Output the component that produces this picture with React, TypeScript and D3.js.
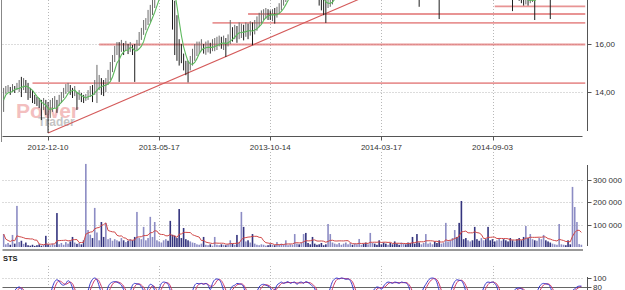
import React from 'react';
import * as d3 from 'd3';

// ---- price bars (2-session bars), high / low ----
const highs = [
  14.17, 14.25, 14.29, 14.21, 14.33, 14.25, 14.38, 14.50, 14.63, 14.58,
  14.50, 14.38, 14.17, 14.08, 13.88, 13.79, 13.75, 13.67, 13.75, 13.67,
  13.58, 13.67, 13.75, 13.83, 13.67, 13.88, 14.00, 14.17, 14.33, 14.38,
  14.29, 14.17, 14.25, 14.00, 14.08, 13.96, 13.88, 13.92, 14.08, 14.25,
  14.29, 14.50, 15.13, 14.71, 14.58, 14.50, 14.58, 14.92, 15.25, 15.54,
  15.92, 16.08, 16.08, 16.17, 16.04, 16.13, 16.00, 16.08, 15.96, 16.00,
  16.17, 16.50, 16.67, 17.00, 17.08, 17.42, 17.63, 17.92, 18.17, 18.40,
  18.70, 19.00, 19.20, 19.30, 19.10, 18.90, 18.60, 17.80, 17.20, 16.20,
  16.00, 15.60, 15.30, 15.30, 15.50, 15.80, 16.00, 16.10, 16.10, 16.20,
  16.00, 16.10, 16.15, 16.05, 16.20, 16.25, 16.30, 16.35, 16.30, 16.35,
  16.25, 16.40, 17.00, 16.70, 16.80, 16.75, 16.90, 16.85, 16.80, 16.90,
  16.85, 16.95, 16.90, 17.00, 17.15, 17.30, 17.40, 17.45, 17.50, 17.45,
  17.40, 17.45, 17.50, 17.55, 17.70, 17.85, 18.00, 18.20, 18.40, 18.60,
  18.80, 19.00, 19.20, 19.10, 19.30, 19.40, 19.20, 19.00, 18.80, 18.60,
  18.40, 18.30, 18.20, 18.10, 18.00, 18.00, 18.10, 18.20, 18.30, 18.50,
  18.70, 18.90, 19.10, 19.20, 19.40, 19.50, 19.60, 19.50, 19.70, 19.80,
  19.90, 20.00, 19.80, 19.70, 19.90, 20.10, 20.20, 20.00, 19.90, 19.80,
  19.70, 19.60, 19.50, 19.60, 19.40, 19.30, 19.20, 19.10, 19.00, 19.10,
  19.20, 19.10, 19.00, 18.90, 18.80, 18.70, 18.60, 18.50, 18.60, 18.80,
  18.90, 19.00, 19.10, 19.20, 19.00, 18.90, 18.70, 18.80, 19.00, 19.10,
  19.20, 19.30, 19.40, 19.50, 19.40, 19.30, 19.20, 19.10, 19.00, 19.10,
  19.20, 19.10, 19.00, 18.90, 18.80, 18.90, 19.00, 18.90, 18.80, 18.70,
  18.60, 18.50, 18.60, 18.70, 18.80, 18.70, 18.60, 18.50, 18.40, 18.50,
  18.40, 18.30, 18.20, 18.10, 17.90, 17.90, 17.90, 18.10, 18.20, 18.30,
  18.40, 18.50, 18.60, 18.70, 18.60, 18.50, 18.40, 18.50, 18.60, 18.70,
  18.80, 18.90, 19.00, 18.90, 18.80, 18.70, 18.80, 18.90, 19.00, 19.10,
  19.20,
];
const lows = [
  13.17, 13.92, 14.00, 13.88, 14.00, 13.96, 14.08, 14.00, 13.79, 14.08,
  13.96, 13.67, 13.75, 13.54, 13.50, 13.42, 13.33, 12.83, 13.25, 13.04,
  12.29, 12.92, 13.17, 13.33, 13.13, 13.42, 13.54, 13.75, 13.92, 14.00,
  13.88, 13.75, 13.83, 13.25, 13.67, 13.58, 13.54, 13.63, 13.67, 13.79,
  13.58, 13.88, 13.54, 14.08, 13.88, 13.83, 14.00, 14.29, 14.50, 14.83,
  15.25, 15.54, 14.42, 15.67, 15.54, 15.75, 15.58, 15.67, 15.54, 14.42,
  15.75, 15.92, 16.17, 16.38, 16.58, 16.79, 16.92, 17.21, 17.50, 17.90,
  18.20, 18.40, 18.60, 18.70, 18.50, 18.30, 16.60, 15.54, 15.30, 15.10,
  15.20, 14.90, 14.70, 14.40, 14.90, 15.10, 15.30, 15.50, 15.60, 15.70,
  15.60, 15.55, 15.65, 15.60, 15.70, 15.70, 15.75, 15.90, 15.80, 15.75,
  15.46, 15.90, 16.00, 16.10, 16.20, 16.05, 16.20, 16.25, 16.15, 16.30,
  16.20, 16.35, 15.95, 16.40, 16.55, 16.70, 16.85, 17.00, 17.05, 17.00,
  17.00, 16.95, 16.85, 17.10, 17.25, 17.40, 17.60, 17.75, 17.95, 18.10,
  18.30, 18.50, 18.70, 18.60, 18.80, 18.90, 18.70, 18.50, 18.30, 18.10,
  17.95, 17.90, 17.60, 17.40, 17.20, 16.88, 17.50, 17.55, 17.65, 18.00,
  18.20, 18.40, 18.60, 18.70, 18.90, 19.00, 19.10, 19.00, 19.20, 19.30,
  19.40, 19.50, 19.30, 19.20, 19.40, 19.60, 19.70, 19.50, 19.40, 19.30,
  19.20, 19.10, 19.00, 19.10, 18.90, 18.80, 18.70, 18.60, 18.50, 18.60,
  18.70, 18.60, 18.50, 18.40, 18.30, 18.20, 18.10, 17.55, 18.10, 18.30,
  18.40, 18.50, 18.60, 18.70, 18.50, 18.40, 17.04, 18.30, 18.50, 18.60,
  18.70, 18.80, 18.90, 19.00, 18.90, 18.80, 18.70, 18.60, 18.50, 18.60,
  18.70, 18.60, 18.50, 18.40, 18.30, 18.40, 18.50, 18.40, 18.30, 18.20,
  18.10, 18.00, 18.10, 18.20, 18.30, 18.20, 18.10, 18.00, 18.00, 17.37,
  17.90, 17.85, 17.80, 17.70, 17.60, 17.65, 17.60, 17.70, 17.75, 17.00,
  17.90, 18.00, 18.10, 18.20, 18.10, 18.00, 17.04, 18.00, 18.10, 18.20,
  18.30, 18.40, 18.50, 18.40, 18.30, 18.20, 18.30, 18.40, 18.50, 18.60,
  18.70,
];

// ---- volume, thousands of shares ----
const volumes = [
  58, 12, 18, 10, 54, 15, 184, 22, 28, 14,
  20, 8, 6, 10, 5, 8, 12, 6, 10, 50,
  12, 8, 15, 10, 152, 12, 18, 10, 22, 15,
  25, 45, 20, 14, 18, 12, 30, 372, 76, 55,
  40, 175, 65, 30, 112, 45, 108, 35, 40, 28,
  35, 30, 25, 40, 30, 22, 28, 35, 30, 45,
  157, 40, 35, 90, 30, 40, 135, 45, 112, 30,
  25, 20, 30, 35, 28, 117, 55, 50, 40, 170,
  40, 85, 35, 30, 25, 20, 18, 12, 10, 15,
  45, 10, 8, 12, 6, 45, 10, 8, 12, 10,
  8, 12, 30, 15, 10, 54, 20, 157, 90, 25,
  30, 20, 58, 15, 10, 8, 12, 10, 6, 8,
  12, 10, 8, 22, 10, 15, 12, 30, 8, 12,
  10, 58, 15, 12, 20, 58, 63, 18, 12, 45,
  15, 10, 12, 18, 8, 12, 103, 58, 20, 15,
  12, 18, 10, 15, 20, 12, 18, 10, 15, 12,
  36, 10, 15, 20, 12, 63, 18, 15, 10, 30,
  12, 20, 15, 10, 18, 12, 25, 15, 10, 20,
  15, 12, 20, 18, 45, 15, 58, 20, 12, 18,
  58, 15, 20, 12, 25, 18, 30, 15, 20, 108,
  25, 30, 40, 76, 45, 108, 206, 35, 40, 30,
  25, 30, 90, 35, 28, 40, 30, 35, 90, 30,
  35, 25, 30, 40, 28, 35, 30, 25, 40, 30,
  25, 35, 40, 30, 45, 94, 40, 58, 35, 30,
  28, 40, 35, 54, 30, 25, 20, 15, 12, 10,
  103, 12, 10, 8, 30, 12, 269, 179, 112, 13,
  10,
];

// ---- STS oscillator (%K) ----
const sts = [
  60, 55, 50, 58, 66, 72, 78, 80, 76, 65,
  50, 38, 25, 18, 15, 20, 28, 22, 15, 25,
  40, 62, 80, 92, 96, 93, 86, 84, 88, 94,
  90, 78, 60, 45, 35, 42, 55, 60, 72, 88,
  97, 100, 96, 82, 66, 55, 62, 80, 88, 91,
  92, 91, 88, 84, 74, 60, 56, 70, 84, 88,
  87, 86, 80, 72, 64, 78, 86, 84, 72, 62,
  76, 88, 91, 90, 86, 72, 50, 30, 12, 8,
  10, 15, 22, 30, 45, 70, 84, 88, 87, 88,
  86, 88, 84, 74, 88, 96, 98, 96, 88, 72,
  60, 66, 74, 82, 84, 88, 87, 86, 80, 62,
  45, 40, 52, 60, 70, 80, 85, 86, 84, 82,
  78, 70, 74, 84, 88, 91, 88, 90, 92, 88,
  90, 91, 86, 90, 91, 88, 92, 90, 86, 82,
  76, 62, 45, 30, 28, 40, 60, 78, 92, 98,
  100, 98, 100, 99, 97, 98, 94, 82, 62, 45,
  38, 44, 52, 58, 62, 66, 70, 76, 80, 79,
  75, 82, 88, 91, 90, 88, 91, 90, 88, 91,
  90, 89, 84, 70, 55, 42, 38, 50, 65, 78,
  86, 94, 99, 100, 98, 90, 72, 55, 45, 40,
  50, 66, 82, 92, 96, 95, 94, 86, 70, 55,
  42, 35, 40, 48, 56, 65, 78, 88, 91, 90,
  91, 88, 80, 62, 45, 38, 42, 50, 60, 68,
  74, 77, 78, 76, 72, 60, 48, 40, 45, 55,
  68, 80, 86, 88, 87, 86, 80, 65, 50, 40,
  35, 38, 45, 55, 62, 68, 72, 76, 80, 82,
  82,
];

const tickIndex = [20, 70, 120, 170, 220];
const tickLabels = ['2012-12-10', '2013-05-17', '2013-10-14', '2014-03-17', '2014-09-03'];
const priceTicks = [14, 16, 18];
const volumeTicks = [100, 200, 300];
const stsTicks = [80, 100];
const levels = [14.37, 15.98, 16.88, 17.25, 17.57];
const levelStart = [13, 43, 94, 110, 221];
const trendIdx = [20, 159];
const trendPrice = [12.29, 17.83];

const N = highs.length;
const FONT = '"Liberation Sans", Arial, sans-serif';

export default function App() {
  const x = d3.scaleLinear().domain([0, N]).range([2.5, 582.5]);
  const cx = (i: number) => x(i + 0.5);
  const yP = d3.scaleLinear().domain([14, 16]).range([92, 44]);
  const yV = d3.scaleLinear().domain([0, 300]).range([247, 180]);
  const yS = d3.scaleLinear().domain([80, 100]).range([287, 278]);

  const mids = highs.map((h, i) => (h + lows[i]) / 2);
  const ma = mids.map((_, i) => d3.mean(mids.slice(Math.max(0, i - 4), i + 1)) as number);
  const volMa = volumes.map((_, i) => d3.mean(volumes.slice(Math.max(0, i - 9), i + 1)) as number);
  const stsD = sts.map((_, i) => d3.mean(sts.slice(Math.max(0, i - 2), i + 1)) as number);

  const priceLine = d3.line<number>().x((_, i) => cx(i)).y((d) => yP(d));
  const volLine = d3.line<number>().x((_, i) => cx(i)).y((d) => yV(d));
  const stsLine = d3.line<number>().x((_, i) => cx(i)).y((d) => yS(d)).curve(d3.curveMonotoneX);

  const fmtPrice = (v: number) => d3.format('.2f')(v).replace('.', ',');
  const loc = d3.formatLocale({ decimal: ',', thousands: ' ', grouping: [3], currency: ['', ''] });
  const fmtVol = (v: number) => loc.format(',')(v * 1000);

  const up = mids.map((m, i) => i === 0 || m >= mids[i - 1]);
  const trendX2 = N + 2;
  const trendSlope = (trendPrice[1] - trendPrice[0]) / (trendIdx[1] - trendIdx[0]);
  const trendP2 = trendPrice[0] + trendSlope * (trendX2 - trendIdx[0]);

  const grid = { stroke: '#b8b8b8', strokeWidth: 1, strokeDasharray: '1,2' };
  const axisX = 587.5;

  return (
    <svg width={625} height={290} style={{ position: 'absolute', left: 0, top: 0, background: '#fff' }}
      fontFamily={FONT}>
      <defs>
        <clipPath id="cp-price"><rect x={2.5} y={0} width={583} height={135.5} /></clipPath>
        <clipPath id="cp-vol"><rect x={2.5} y={150} width={581} height={97.5} /></clipPath>
        <clipPath id="cp-sts"><rect x={2.5} y={262} width={581} height={28} /></clipPath>
      </defs>
      <rect x={0} y={0} width={625} height={290} fill="#fff" />

      {/* ---- price panel ---- */}
      {tickIndex.map((t) => (
        <line key={'vg' + t} x1={Math.round(cx(t)) + 0.5} x2={Math.round(cx(t)) + 0.5} y1={0} y2={135} {...grid} />
      ))}
      {priceTicks.map((p) => (
        <line key={'hg' + p} x1={2.5} x2={583} y1={Math.round(yP(p)) + 0.5} y2={Math.round(yP(p)) + 0.5} {...grid} />
      ))}
      <g opacity={0.5}>
        <text x={16} y={118} fontSize={21} fontWeight="bold" fill="#e88080" fontFamily={FONT}>Power</text>
        <text x={38} y={126} fontSize={12} fontWeight="bold" fill="#8a8a8a" fontFamily={FONT}>Trader</text>
      </g>
      <g clipPath="url(#cp-price)">
        {levels.map((p, k) => (
          <line key={'lv' + k} x1={cx(levelStart[k])} x2={585.5} y1={yP(p)} y2={yP(p)}
            stroke="#e07070" strokeOpacity={0.75} strokeWidth={1.8} />
        ))}
        <line x1={cx(trendIdx[0])} y1={yP(trendPrice[0])} x2={cx(trendX2)} y2={yP(trendP2)}
          stroke="#d45a5a" strokeWidth={1.1} />
        {highs.map((h, i) => (
          <line key={'b' + i} x1={cx(i)} x2={cx(i)} y1={yP(h)} y2={yP(lows[i])}
            stroke={up[i] ? '#6a6a6a' : '#1e1e1e'} strokeWidth={1} />
        ))}
        <path d={priceLine(ma) || ''} fill="none" stroke="#5cb85c" strokeWidth={1.1} />
      </g>
      <line x1={2.5} x2={582.5} y1={136.5} y2={136.5} stroke="#555" />
      {tickIndex.map((t, k) => (
        <g key={'xt' + t}>
          <line x1={Math.round(cx(t)) + 0.5} x2={Math.round(cx(t)) + 0.5} y1={136.5} y2={140.5} stroke="#555" />
          <text x={cx(t)} y={150} fontSize={8} fill="#333" textAnchor="middle">{tickLabels[k]}</text>
        </g>
      ))}
      <line x1={axisX} x2={axisX} y1={0} y2={131} stroke="#555" />
      {priceTicks.map((p) => (
        <g key={'pt' + p}>
          <line x1={axisX} x2={axisX + 4} y1={Math.round(yP(p)) + 0.5} y2={Math.round(yP(p)) + 0.5} stroke="#555" />
          <text x={595} y={yP(p) + 3} fontSize={8} fill="#333">{fmtPrice(p)}</text>
        </g>
      ))}
      <line x1={1.5} x2={1.5} y1={0} y2={142} stroke="#888" />

      {/* ---- volume panel ---- */}
      {tickIndex.map((t) => (
        <line key={'vvg' + t} x1={Math.round(cx(t)) + 0.5} x2={Math.round(cx(t)) + 0.5} y1={152} y2={248} {...grid} />
      ))}
      {volumeTicks.map((v) => (
        <line key={'vhg' + v} x1={2.5} x2={583} y1={Math.round(yV(v)) + 0.5} y2={Math.round(yV(v)) + 0.5} {...grid} />
      ))}
      <g clipPath="url(#cp-vol)">
        {volumes.map((v, i) => (
          <rect key={'v' + i} x={cx(i) - 0.8} width={1.6} y={yV(v)} height={yV(0) - yV(v)}
            fill={up[i] ? '#8c8cc4' : '#34347e'} />
        ))}
        <path d={volLine(volMa) || ''} fill="none" stroke="#d04848" strokeWidth={1} />
      </g>
      <line x1={2.5} x2={583} y1={250} y2={250} stroke="#777" strokeWidth={1.6} />
      <line x1={axisX} x2={axisX} y1={165} y2={246} stroke="#555" />
      {volumeTicks.map((v) => (
        <g key={'vt' + v}>
          <line x1={axisX} x2={axisX + 4} y1={Math.round(yV(v)) + 0.5} y2={Math.round(yV(v)) + 0.5} stroke="#555" />
          <text x={593} y={yV(v) + 3} fontSize={8} fill="#333">{fmtVol(v)}</text>
        </g>
      ))}

      {/* ---- STS panel ---- */}
      <text x={3} y={261} fontSize={7.5} fontWeight="bold" fill="#222">STS</text>
      {tickIndex.map((t) => (
        <line key={'svg' + t} x1={Math.round(cx(t)) + 0.5} x2={Math.round(cx(t)) + 0.5} y1={266} y2={290} {...grid} />
      ))}
      <line x1={2.5} x2={583} y1={Math.round(yS(100)) + 0.5} y2={Math.round(yS(100)) + 0.5} {...grid} />
      <line x1={2.5} x2={591} y1={Math.round(yS(80)) + 0.5} y2={Math.round(yS(80)) + 0.5} stroke="#666" />
      <g clipPath="url(#cp-sts)">
        <path d={stsLine(stsD) || ''} fill="none" stroke="#cc3a6a" strokeWidth={1} />
        <path d={stsLine(sts) || ''} fill="none" stroke="#3a3acc" strokeWidth={1} />
      </g>
      <line x1={axisX} x2={axisX} y1={277} y2={290} stroke="#555" />
      {stsTicks.map((v) => (
        <g key={'st' + v}>
          <line x1={axisX} x2={axisX + 4} y1={Math.round(yS(v)) + 0.5} y2={Math.round(yS(v)) + 0.5} stroke="#555" />
          <text x={593} y={yS(v) + 2.5} fontSize={8} fill="#333">{v}</text>
        </g>
      ))}
    </svg>
  );
}
